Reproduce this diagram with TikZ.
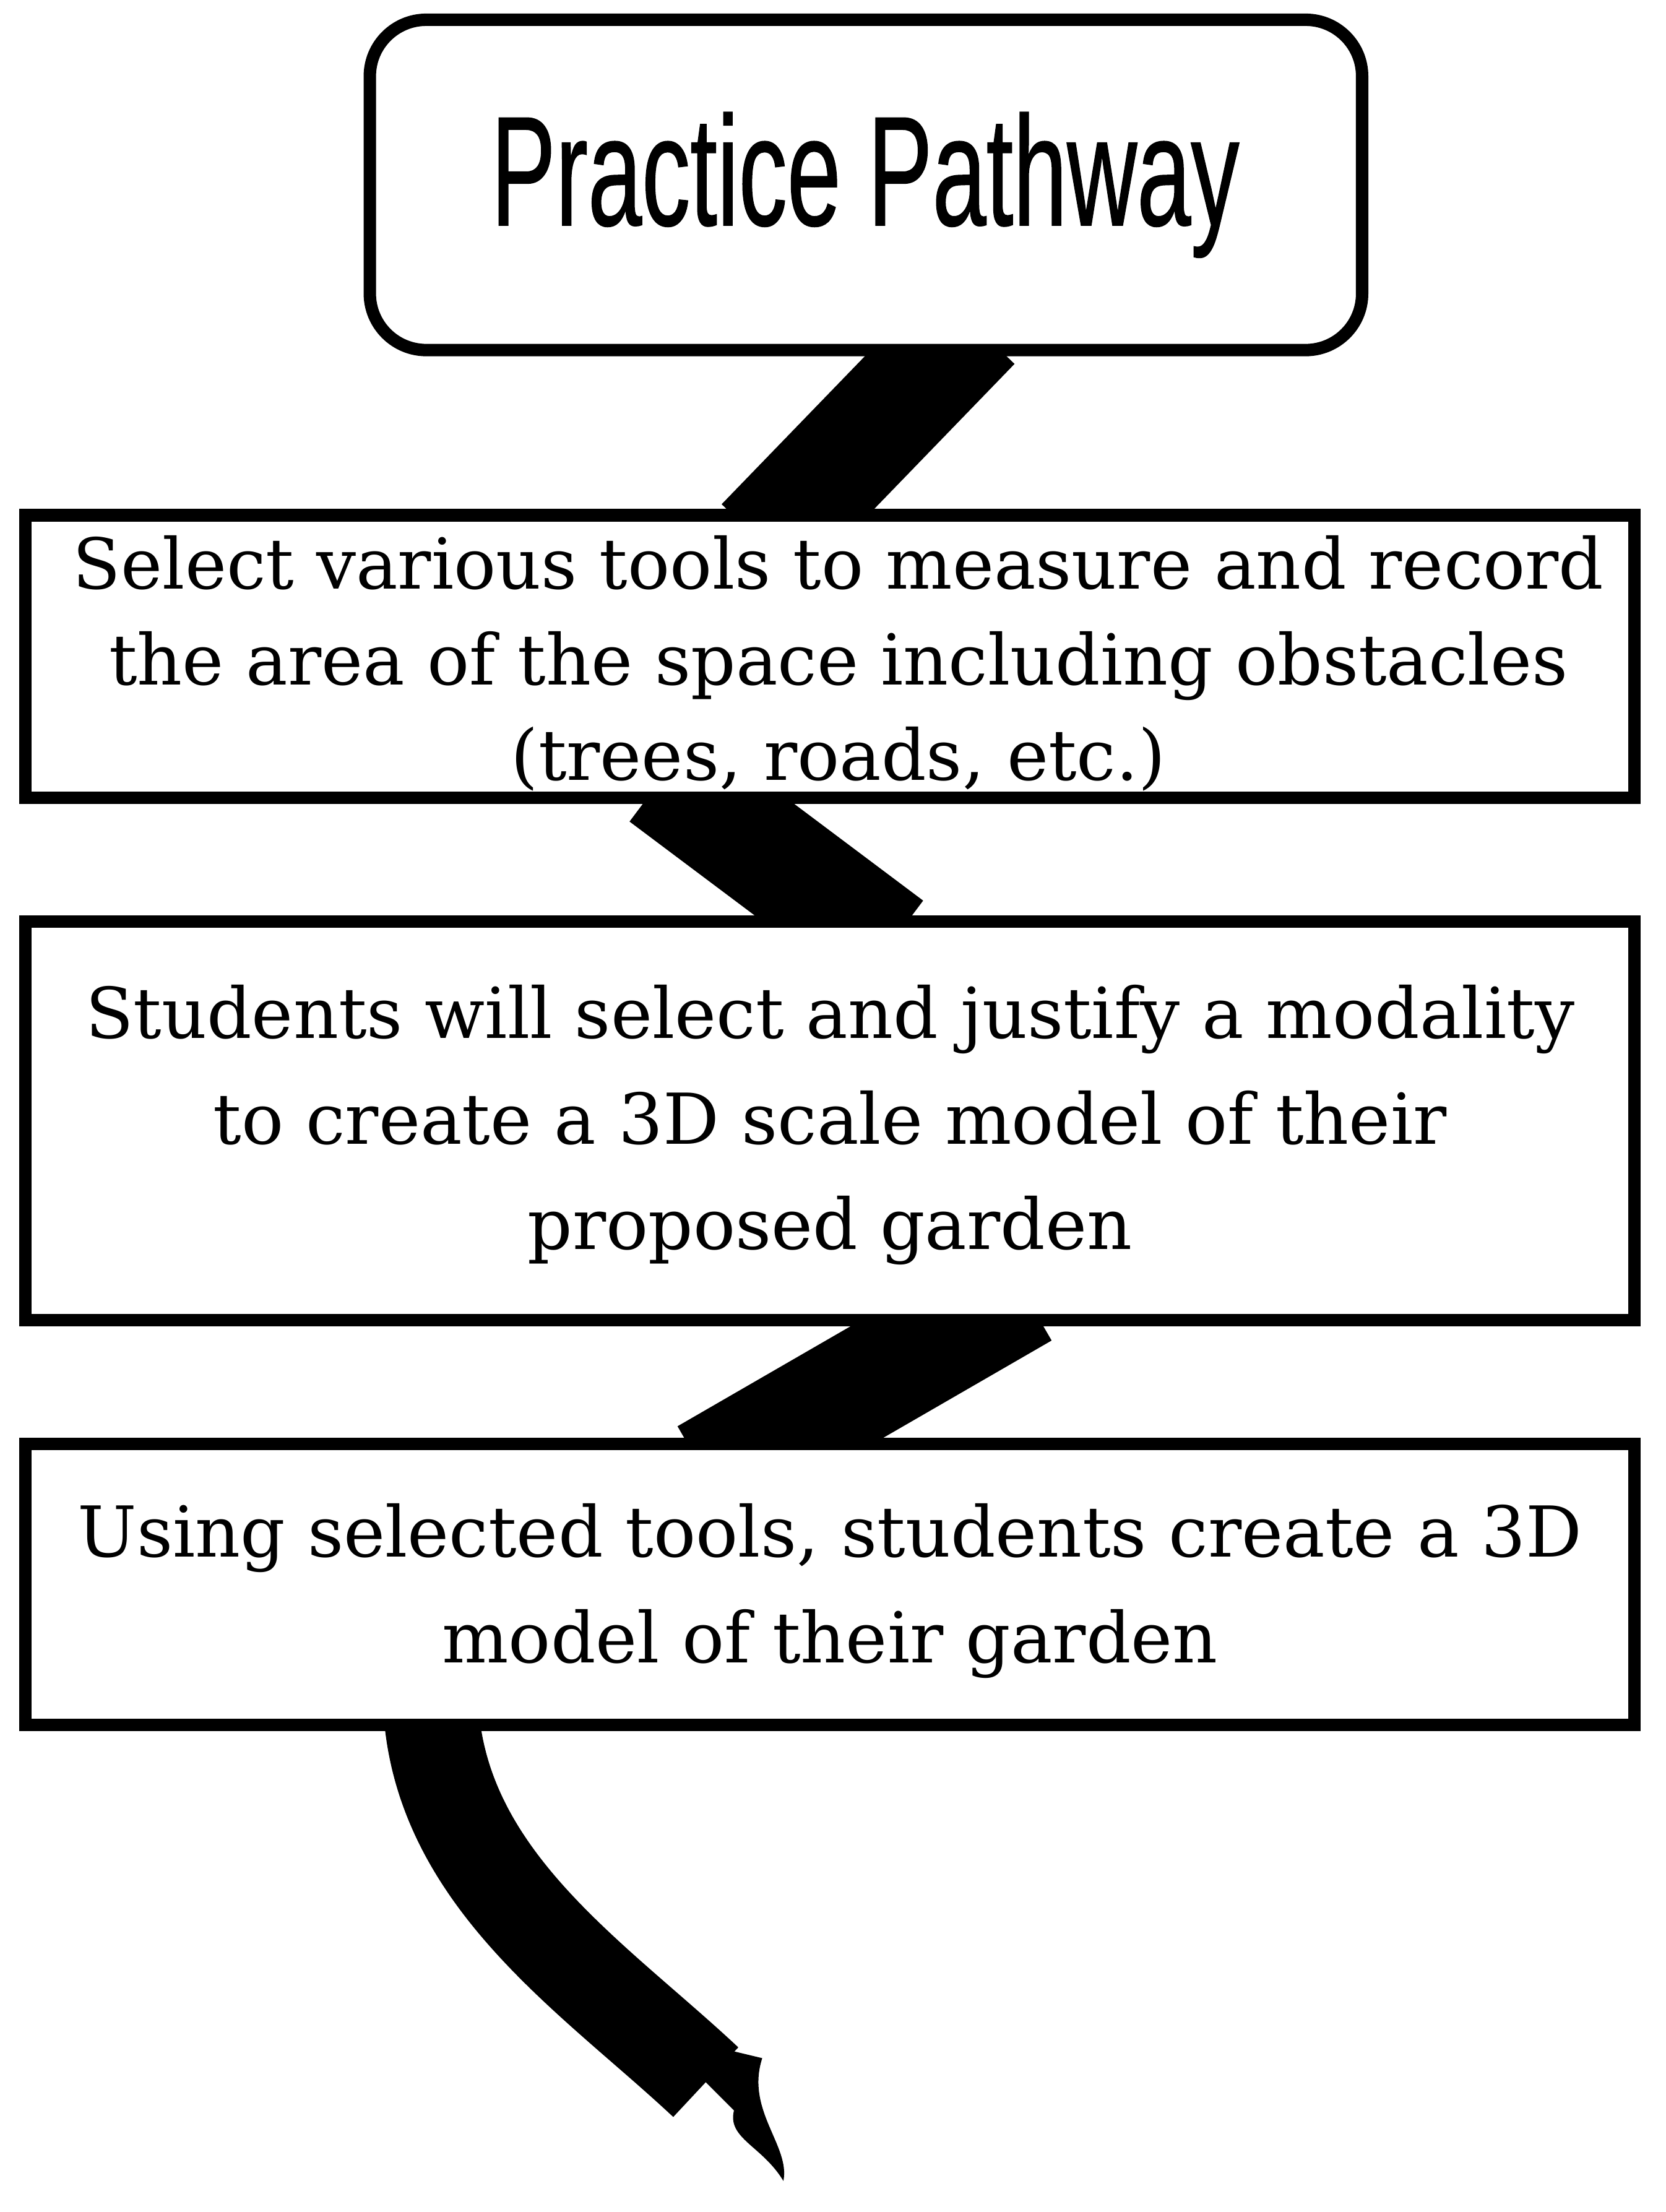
\documentclass[tikz,border=0pt]{standalone}
\usepackage{fontspec}
\setmainfont{DejaVu Serif}
\newfontfamily\titlefont[FakeStretch=0.62,FakeBold=0.6]{Liberation Sans}
\begin{document}
\begin{tikzpicture}[x=0.02cm,y=-0.02cm,
  box/.style={draw=black,line width=5pt,fill=white,inner sep=0pt},
  body/.style={font=\fontsize{28.3}{42.5}\selectfont,align=center},
  ribbon/.style={line width=1.6cm,line cap=butt}]
\useasboundingbox[fill=white] (0,0) rectangle (1180,1567);
% ribbon
\draw[ribbon] (690,230) -- (540,385);
\draw[ribbon] (470,550) -- (630,670);
\draw[ribbon] (725,915) -- (500,1045);
\draw[line width=1.35cm] (305,1205) .. controls (310,1330) and (420,1400) .. (500,1475);
\fill (465,1440) -- (540,1458) .. controls (528,1495) and (560,1520) .. (555,1545) .. controls (540,1520) and (515,1515) .. (520,1495) -- cycle;
% boxes
\draw[box,rounded corners=0.8cm] (262,14) rectangle (965,248);
\node (t) at (613,131) {\titlefont\fontsize{63}{70}\selectfont Practice Pathway};
\draw[box] (18,365) rectangle (1158,565);
\node[body,font=\fontsize{28.3}{38.5}\selectfont] (b1) at (594,470) {Select various tools to measure and record\\the area of the space including obstacles\\(trees, roads, etc.)};
\draw[box] (18,653) rectangle (1158,935);
\node[body] (b2) at (588,797) {Students will select and justify a modality\\to create a 3D scale model of their\\proposed garden};
\draw[box] (18,1023) rectangle (1158,1222);
\node[body] (b3) at (588,1127) {Using selected tools, students create a 3D\\model of their garden};
\end{tikzpicture}
\end{document}
